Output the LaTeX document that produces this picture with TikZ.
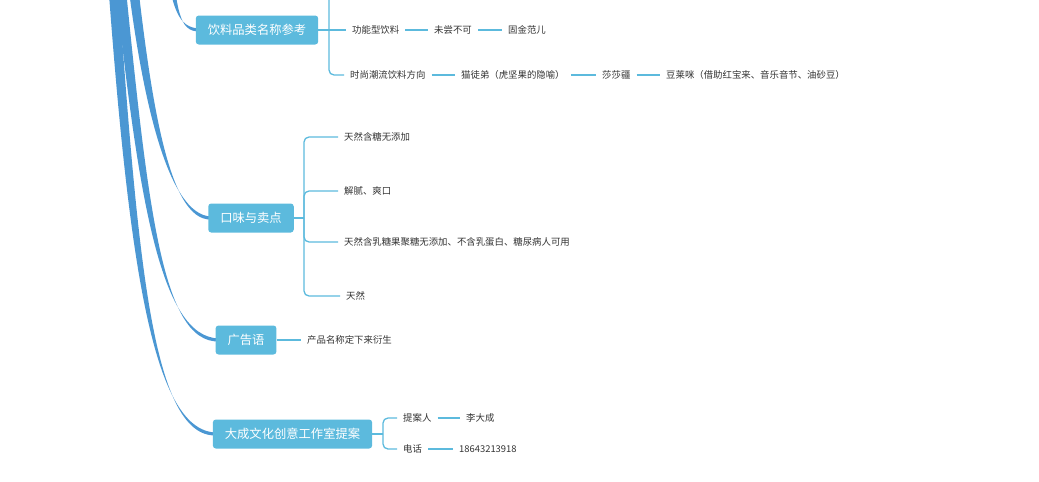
\documentclass[tikz,border=0pt]{standalone}
\usepackage{fontspec}
\setmainfont{Noto Sans CJK SC}
\definecolor{boxc}{HTML}{5CBADD}
\definecolor{linec}{HTML}{5CBADD}
\definecolor{thickc}{HTML}{4B97D3}
\definecolor{txt}{HTML}{333333}
\begin{document}
\begin{tikzpicture}[x=1pt,y=-1pt,
  mainbox/.style={fill=boxc, rounded corners=3pt, text=white, font=\fontsize{12.3}{14}\selectfont, minimum height=29pt, inner xsep=12pt, inner ysep=0pt},
  leaf/.style={text=txt, font=\fontsize{9.4}{11}\selectfont, inner xsep=6pt, inner ysep=2pt, anchor=west},
  conn/.style={draw=linec, line width=1.3pt},
  bracket/.style={conn, rounded corners=5pt},
  trunk/.style={fill=thickc, draw=none},
]
\useasboundingbox (0,0) rectangle (1039,482);

% thick tapering branches from the (off-canvas) root
\fill[trunk] (105,-60) .. controls (127,250) and (150,431) .. (216,432.5) -- (216,435.5) .. controls (150,437) and (137,250) .. (115,-60) -- cycle;
\fill[trunk] (111,-60) .. controls (137,200) and (160,337) .. (219,338.5) -- (219,341.5) .. controls (160,343) and (147,200) .. (121,-60) -- cycle;
\fill[trunk] (123,-60) .. controls (140,100) and (168,215) .. (211,216.5) -- (211,219.5) .. controls (168,221) and (150,100) .. (133,-60) -- cycle;
\fill[trunk] (162.5,-60) .. controls (171,10) and (178,28) .. (200,28.5) -- (200,31.5) .. controls (178,32) and (177,10) .. (169.5,-60) -- cycle;

% main topic boxes
\node[mainbox] (yl) at (257,30) {饮料品类名称参考};
\node[mainbox] (kw) at (251,218) {口味与卖点};
\node[mainbox] (gg) at (246,340) {广告语};
\node[mainbox] (dc) at (292.5,434) {大成文化创意工作室提案};

% leaves
\node[leaf] (f1) at (346,30) {功能型饮料};
\node[leaf] (f2) at (428,30) {未尝不可};
\node[leaf] (f3) at (502,30) {固金范儿};
\node[leaf] (s1) at (344,75) {时尚潮流饮料方向};
\node[leaf] (s2) at (455,75) {猫徒弟（虎坚果的隐喻）};
\node[leaf] (s3) at (596,75) {莎莎疆};
\node[leaf] (s4) at (660,75) {豆莱咪（借助红宝来、音乐音节、油砂豆）};

\node[leaf] (k1) at (338,137) {天然含糖无添加};
\node[leaf] (k2) at (338,191) {解腻、爽口};
\node[leaf] (k3) at (338,242) {天然含乳糖果聚糖无添加、不含乳蛋白、糖尿病人可用};
\node[leaf] (k4) at (340,296) {天然};

\node[leaf] (g1) at (301,340) {产品名称定下来衍生};

\node[leaf] (d1) at (397,418) {提案人};
\node[leaf] (d2) at (460,418) {李大成};
\node[leaf] (d3) at (397,449) {电话};
\node[leaf] (d4) at (453,449) {18643213918};

% bracket junctions
\coordinate (ytop) at (329,-10);
\coordinate (kb) at (304,218);
\coordinate (db) at (383,434);

% connectors: 饮料品类名称参考
\draw[conn] (yl.east) -- (f1.west);
\draw[bracket] (ytop) |- (s1.west);
\draw[conn] (f1.east) -- (f2.west);
\draw[conn] (f2.east) -- (f3.west);
\draw[conn] (s1.east) -- (s2.west);
\draw[conn] (s2.east) -- (s3.west);
\draw[conn] (s3.east) -- (s4.west);

% connectors: 口味与卖点
\draw[conn] (kw.east) -- (kb);
\draw[bracket] (kb) |- (k1.west);
\draw[bracket] (kb) |- (k2.west);
\draw[bracket] (kb) |- (k3.west);
\draw[bracket] (kb) |- (k4.west);

% connectors: 广告语
\draw[conn] (gg.east) -- (g1.west);

% connectors: 大成文化创意工作室提案
\draw[conn] (dc.east) -- (db);
\draw[bracket] (db) |- (d1.west);
\draw[bracket] (db) |- (d3.west);
\draw[conn] (d1.east) -- (d2.west);
\draw[conn] (d3.east) -- (d4.west);
\end{tikzpicture}
\end{document}
